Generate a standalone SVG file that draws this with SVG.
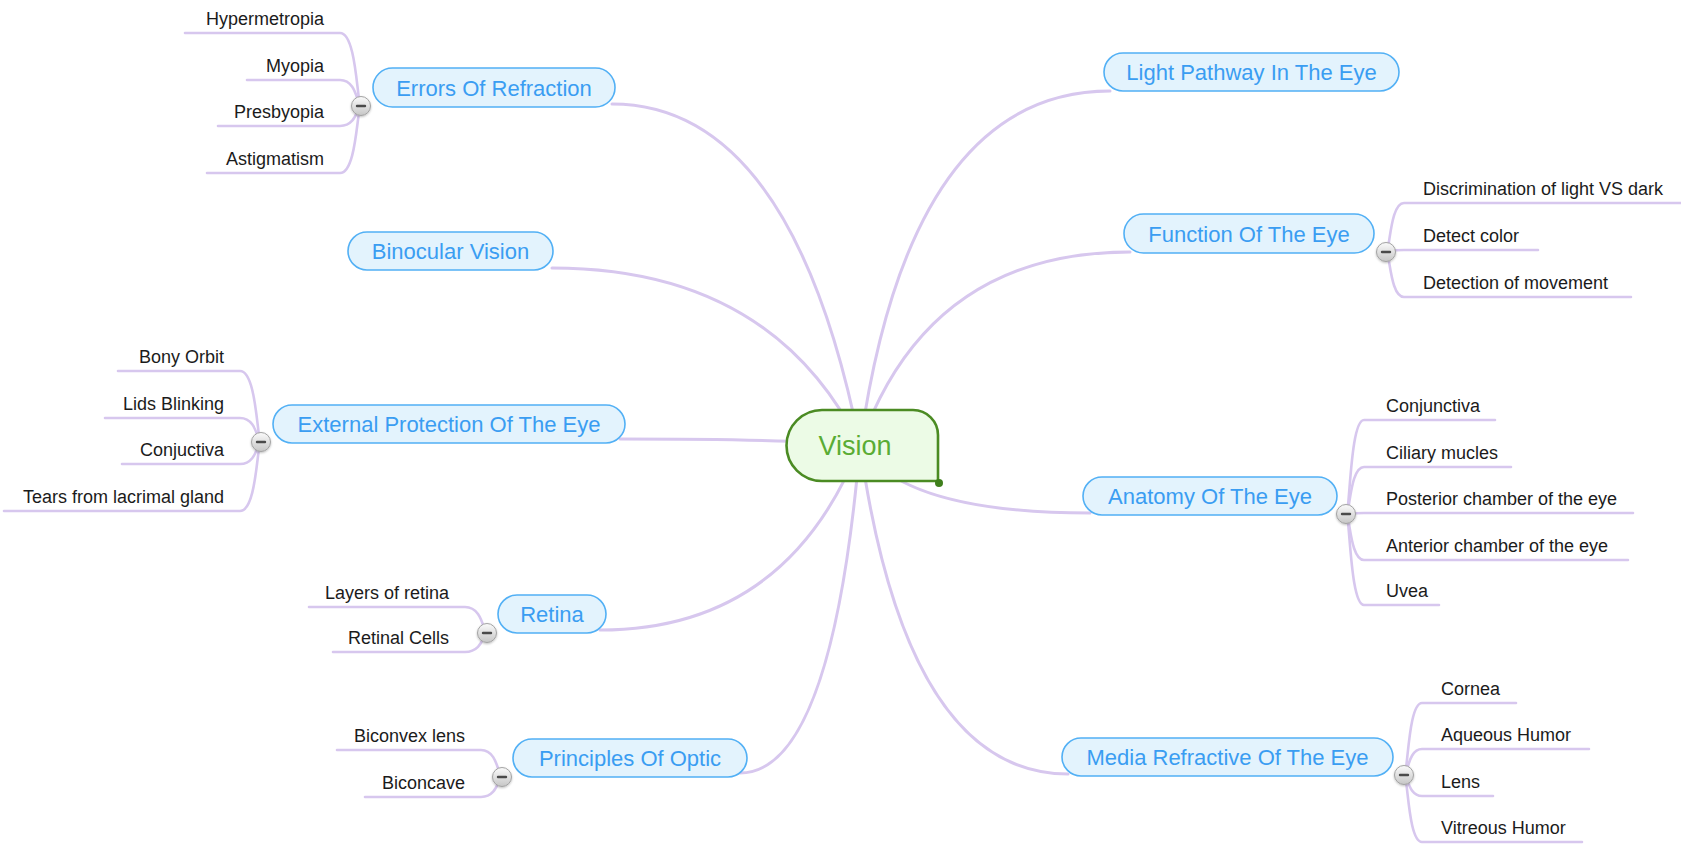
<svg xmlns="http://www.w3.org/2000/svg" width="1681" height="844" viewBox="0 0 1681 844">
  <defs>
    <style>
      .main { fill: none; stroke: #d7c7ee; stroke-width: 3; stroke-linecap: round; }
      .sub { fill: none; stroke: #d7c7ee; stroke-width: 2.6; stroke-linecap: round; }
      .pill { fill: #e3f3fd; stroke: #52b0f5; stroke-width: 1.6; }
      .ptxt { font-family: "Liberation Sans", Arial, sans-serif; font-size: 22px; fill: #3a9df2; text-anchor: middle; }
      .leaf { font-family: "Liberation Sans", Arial, sans-serif; font-size: 18px; fill: #1b1b1b; }
      .l { text-anchor: end; }
      .btn { fill: url(#btnGrad); stroke: #a3a3a3; stroke-width: 1; }
      .minus { stroke: #4a4a4a; stroke-width: 2.4; stroke-linecap: round; }
    </style>
    <linearGradient id="btnGrad" x1="0" y1="0" x2="0" y2="1">
      <stop offset="0" stop-color="#fbfbfb"/>
      <stop offset="1" stop-color="#c6c6c6"/>
    </linearGradient>
    <filter id="shadow" x="-50%" y="-50%" width="200%" height="200%">
      <feDropShadow dx="0" dy="1" stdDeviation="0.8" flood-color="#000" flood-opacity="0.25"/>
    </filter>
  </defs>

  <!-- connectors: central topic to main topics, main topics to subtopics -->
  <g id="connectors">
    <path class="main" d="M860 445 Q792 104 612 104"/>
    <path class="main" d="M860 445 Q772 268 552 268"/>
    <path class="main" d="M860 445 Q790 439 620 439"/>
    <path class="main" d="M860 445 Q787 630 600 630"/>
    <path class="main" d="M860 445 Q832 773 740 773"/>
    <path class="main" d="M860 445 Q910 91 1110 91"/>
    <path class="main" d="M860 445 Q928 252 1130 252"/>
    <path class="main" d="M860 445 Q903 513 1090 513"/>
    <path class="main" d="M860 445 Q906 774 1068 774"/>

    <!-- Errors Of Refraction -->
    <path class="sub" d="M185 33 H340 C357 33 357 106 361 106"/>
    <path class="sub" d="M247 80 H340 C357 80 357 106 361 106"/>
    <path class="sub" d="M218 126 H340 C357 126 357 106 361 106"/>
    <path class="sub" d="M207 173 H340 C357 173 357 106 361 106"/>
    <!-- External Protection Of The Eye -->
    <path class="sub" d="M118 371 H240 C257 371 257 442 261 442"/>
    <path class="sub" d="M105 418 H240 C257 418 257 442 261 442"/>
    <path class="sub" d="M122 464 H240 C257 464 257 442 261 442"/>
    <path class="sub" d="M4 511 H240 C257 511 257 442 261 442"/>
    <!-- Retina -->
    <path class="sub" d="M309 607 H465 C483 607 483 633 487 633"/>
    <path class="sub" d="M333 652 H465 C483 652 483 633 487 633"/>
    <!-- Principles Of Optic -->
    <path class="sub" d="M337 750 H481 C498 750 498 777 502 777"/>
    <path class="sub" d="M365 797 H481 C498 797 498 777 502 777"/>
    <!-- Function Of The Eye -->
    <path class="sub" d="M1386 252 C1390 252 1390 203 1404 203 H1681"/>
    <path class="sub" d="M1386 252 C1390 252 1390 250 1404 250 H1538"/>
    <path class="sub" d="M1386 252 C1390 252 1390 297 1404 297 H1631"/>
    <!-- Anatomy Of The Eye -->
    <path class="sub" d="M1346 514 C1350 514 1350 420 1364 420 H1495"/>
    <path class="sub" d="M1346 514 C1350 514 1350 467 1364 467 H1511"/>
    <path class="sub" d="M1346 514 C1350 514 1350 513 1364 513 H1633"/>
    <path class="sub" d="M1346 514 C1350 514 1350 560 1364 560 H1628"/>
    <path class="sub" d="M1346 514 C1350 514 1350 605 1364 605 H1439"/>
    <!-- Media Refractive Of The Eye -->
    <path class="sub" d="M1404 775 C1408 775 1408 703 1422 703 H1516"/>
    <path class="sub" d="M1404 775 C1408 775 1408 749 1422 749 H1589"/>
    <path class="sub" d="M1404 775 C1408 775 1408 796 1422 796 H1493"/>
    <path class="sub" d="M1404 775 C1408 775 1408 842 1422 842 H1582"/>
  </g>

  <!-- central topic -->
  <g id="vision">
    <path d="M822 410 H913 A25 25 0 0 1 938 435 V481 H822 A35.5 35.5 0 0 1 822 410 Z" fill="#ecfbe6" stroke="#4b8b23" stroke-width="2.6"/>
    <circle cx="939" cy="483" r="4" fill="#3f7f1c"/>
    <text x="855" y="455" font-family="'Liberation Sans', Arial, sans-serif" font-size="27" fill="#5aac34" text-anchor="middle">Vision</text>
  </g>

  <g id="errors-of-refraction">
    <rect class="pill" x="373" y="68" width="242" height="39" rx="19.5"/>
    <text class="ptxt" x="494" y="95.5">Errors Of Refraction</text>
    <g filter="url(#shadow)"><circle class="btn" cx="361" cy="106" r="9.5"/></g>
    <line class="minus" x1="357" y1="106" x2="365" y2="106"/>
    <text class="leaf l" x="324" y="25">Hypermetropia</text>
    <text class="leaf l" x="324" y="72">Myopia</text>
    <text class="leaf l" x="324" y="118">Presbyopia</text>
    <text class="leaf l" x="324" y="165">Astigmatism</text>
  </g>

  <g id="light-pathway">
    <rect class="pill" x="1104" y="53" width="295" height="38" rx="19"/>
    <text class="ptxt" x="1251.5" y="80">Light Pathway In The Eye</text>
  </g>

  <g id="function-of-the-eye">
    <rect class="pill" x="1124" y="214" width="250" height="39" rx="19.5"/>
    <text class="ptxt" x="1249" y="241.5">Function Of The Eye</text>
    <g filter="url(#shadow)"><circle class="btn" cx="1386" cy="252" r="9.5"/></g>
    <line class="minus" x1="1382" y1="252" x2="1390" y2="252"/>
    <text class="leaf" x="1423" y="195">Discrimination of light VS dark</text>
    <text class="leaf" x="1423" y="242">Detect color</text>
    <text class="leaf" x="1423" y="289">Detection of movement</text>
  </g>

  <g id="binocular-vision">
    <rect class="pill" x="348" y="232" width="205" height="38" rx="19"/>
    <text class="ptxt" x="450.5" y="259">Binocular Vision</text>
  </g>

  <g id="external-protection">
    <rect class="pill" x="273" y="405" width="352" height="38" rx="19"/>
    <text class="ptxt" x="449" y="432">External Protection Of The Eye</text>
    <g filter="url(#shadow)"><circle class="btn" cx="261" cy="442" r="9.5"/></g>
    <line class="minus" x1="257" y1="442" x2="265" y2="442"/>
    <text class="leaf l" x="224" y="363">Bony Orbit</text>
    <text class="leaf l" x="224" y="410">Lids Blinking</text>
    <text class="leaf l" x="224" y="456">Conjuctiva</text>
    <text class="leaf l" x="224" y="503">Tears from lacrimal gland</text>
  </g>

  <g id="anatomy-of-the-eye">
    <rect class="pill" x="1083" y="477" width="254" height="38" rx="19"/>
    <text class="ptxt" x="1210" y="504">Anatomy Of The Eye</text>
    <g filter="url(#shadow)"><circle class="btn" cx="1346" cy="514" r="9.5"/></g>
    <line class="minus" x1="1342" y1="514" x2="1350" y2="514"/>
    <text class="leaf" x="1386" y="412">Conjunctiva</text>
    <text class="leaf" x="1386" y="459">Ciliary mucles</text>
    <text class="leaf" x="1386" y="505">Posterior chamber of the eye</text>
    <text class="leaf" x="1386" y="552">Anterior chamber of the eye</text>
    <text class="leaf" x="1386" y="597">Uvea</text>
  </g>

  <g id="retina">
    <rect class="pill" x="498" y="595" width="108" height="38" rx="19"/>
    <text class="ptxt" x="552" y="622">Retina</text>
    <g filter="url(#shadow)"><circle class="btn" cx="487" cy="633" r="9.5"/></g>
    <line class="minus" x1="483" y1="633" x2="491" y2="633"/>
    <text class="leaf l" x="449" y="599">Layers of retina</text>
    <text class="leaf l" x="449" y="644">Retinal Cells</text>
  </g>

  <g id="principles-of-optic">
    <rect class="pill" x="513" y="739" width="234" height="38" rx="19"/>
    <text class="ptxt" x="630" y="766">Principles Of Optic</text>
    <g filter="url(#shadow)"><circle class="btn" cx="502" cy="777" r="9.5"/></g>
    <line class="minus" x1="498" y1="777" x2="506" y2="777"/>
    <text class="leaf l" x="465" y="742">Biconvex lens</text>
    <text class="leaf l" x="465" y="789">Biconcave</text>
  </g>

  <g id="media-refractive">
    <rect class="pill" x="1062" y="738" width="331" height="38" rx="19"/>
    <text class="ptxt" x="1227.5" y="765">Media Refractive Of The Eye</text>
    <g filter="url(#shadow)"><circle class="btn" cx="1404" cy="775" r="9.5"/></g>
    <line class="minus" x1="1400" y1="775" x2="1408" y2="775"/>
    <text class="leaf" x="1441" y="695">Cornea</text>
    <text class="leaf" x="1441" y="741">Aqueous Humor</text>
    <text class="leaf" x="1441" y="788">Lens</text>
    <text class="leaf" x="1441" y="834">Vitreous Humor</text>
  </g>
</svg>
